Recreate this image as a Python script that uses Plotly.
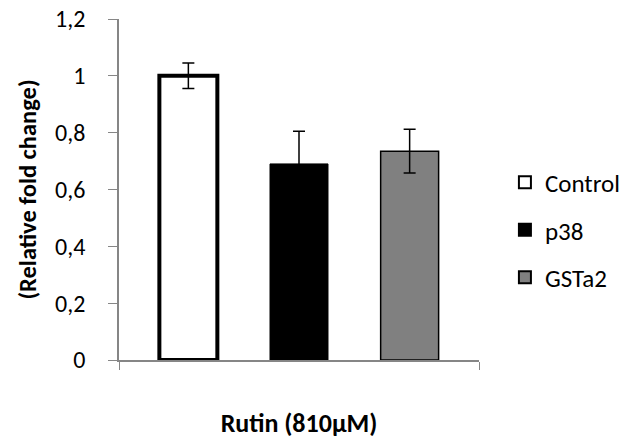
import plotly.graph_objects as go

category = ["Rutin (810µM)"]
series_names = ["Control", "p38", "GSTa2"]
values = [1.0, 0.69, 0.735]
errors = [0.045, 0.115, 0.077]
y_ticks = [0, 0.2, 0.4, 0.6, 0.8, 1.0, 1.2]

fills = ["#ffffff", "#000000", "#808080"]
line_widths = [4, 1, 1.5]

FONT = "Carlito, Calibri, Lato, sans-serif"

fig = go.Figure()
for name, v, e, fc, lw in zip(series_names, values, errors, fills, line_widths):
    fig.add_trace(go.Bar(
        x=category, y=[v], name=name, legendgroup=name,
        marker=dict(color=fc, line=dict(color="#000000", width=lw)),
        error_y=dict(type="data", array=[e], visible=True, color="#000000",
                     thickness=1.5, width=6),
    ))

fig.update_layout(
    width=627, height=443,
    margin=dict(l=119, r=148, t=19, b=83, autoexpand=False),
    paper_bgcolor="white", plot_bgcolor="white",
    separators=",.",
    barmode="group", bargap=0.078, bargroupgap=0.476,
    font=dict(family=FONT, size=24, color="#000000"),
    showlegend=True,
    legend=dict(x=1.072, y=0.381, xanchor="left", yanchor="middle",
                font=dict(size=25), tracegroupgap=12,
                itemsizing="constant"),
)
fig.update_xaxes(
    showticklabels=False, showline=True, linecolor="#868686", linewidth=1.5,
    ticks="outside", tickson="boundaries", ticklen=8, tickcolor="#868686",
    title=dict(text="<b>Rutin (810µM)</b>", standoff=53, font=dict(size=26)),
    showgrid=False, automargin=False,
)
fig.update_yaxes(
    range=[0, 1.2], tickvals=y_ticks, tickformat="~g",
    showline=True, linecolor="#868686", linewidth=1.5,
    ticks="outside", ticklen=9, tickcolor="#868686", ticklabelstandoff=18,
    title=dict(text="<b>(Relative fold change)</b>", standoff=12, font=dict(size=24.5)),
    showgrid=False, zeroline=False, tickfont=dict(size=24), automargin=False,
)

fig.write_html("out.html", config={"displayModeBar": False},
               post_script="document.body.style.margin='0';document.body.style.padding='0';")
